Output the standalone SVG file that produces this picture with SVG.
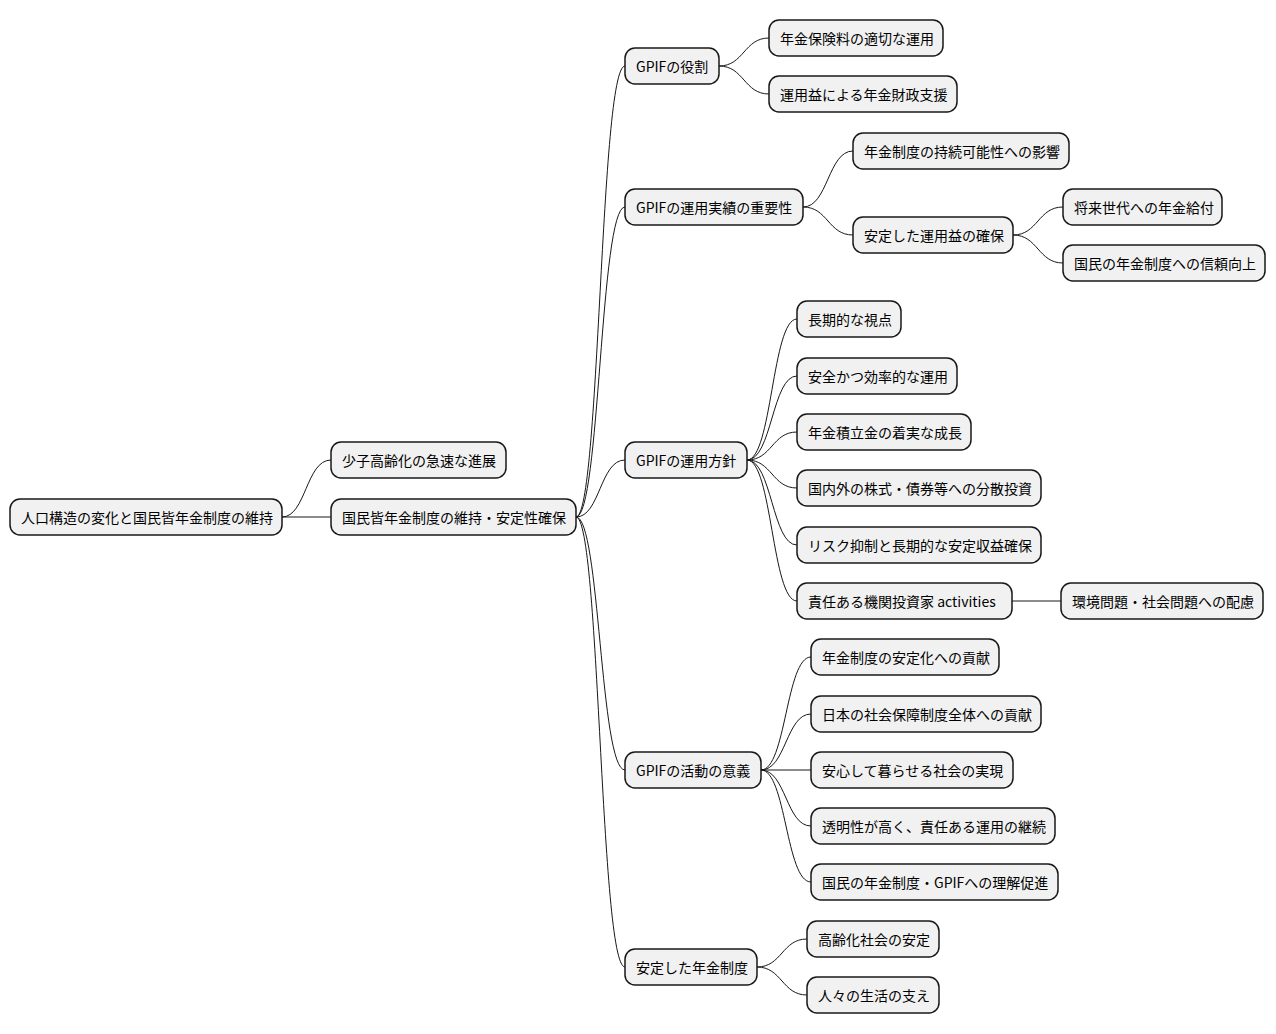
<svg xmlns="http://www.w3.org/2000/svg" width="1276" height="1034" viewBox="0 0 1276 1034">
<style>
.n rect{fill:#f1f1f1;stroke:#181818;stroke-width:1.5}
.n text{font-family:"Noto Sans CJK JP","DejaVu Sans",sans-serif;font-size:14px;fill:#000;dominant-baseline:central}
#c path{fill:none;stroke:#181818;stroke-width:1}
</style>
<rect width="1276" height="1034" fill="#fff"/>
<g id="c">
<path d="M282 517 C306 517 306 460 331 460"/>
<path d="M282 517 L331 517"/>
<path d="M576 517 C600 517 600 66 625 66"/>
<path d="M576 517 C600 517 600 207 625 207"/>
<path d="M576 517 C600 517 600 460 625 460"/>
<path d="M576 517 C600 517 600 770 625 770"/>
<path d="M576 517 C600 517 600 967 625 967"/>
<path d="M719 66 C744 66 744 38 769 38"/>
<path d="M719 66 C744 66 744 94 769 94"/>
<path d="M803 207 C828 207 828 151 853 151"/>
<path d="M803 207 C828 207 828 235 853 235"/>
<path d="M1013 235 C1038 235 1038 207 1063 207"/>
<path d="M1013 235 C1038 235 1038 263 1063 263"/>
<path d="M747 460 C772 460 772 319 797 319"/>
<path d="M747 460 C772 460 772 376 797 376"/>
<path d="M747 460 C772 460 772 432 797 432"/>
<path d="M747 460 C772 460 772 488 797 488"/>
<path d="M747 460 C772 460 772 545 797 545"/>
<path d="M747 460 C772 460 772 601 797 601"/>
<path d="M1012 601 L1061 601"/>
<path d="M761 770 C786 770 786 657 811 657"/>
<path d="M761 770 C786 770 786 714 811 714"/>
<path d="M761 770 L811 770"/>
<path d="M761 770 C786 770 786 826 811 826"/>
<path d="M761 770 C786 770 786 882 811 882"/>
<path d="M757 967 C782 967 782 939 807 939"/>
<path d="M757 967 C782 967 782 995 807 995"/>
</g>
<g id="n0" class="n"><rect x="10" y="499" width="272" height="36" rx="10"/><text x="21" y="517">人口構造の変化と国民皆年金制度の維持</text></g>
<g id="n1" class="n"><rect x="331" y="442" width="175" height="36" rx="10"/><text x="342" y="460">少子高齢化の急速な進展</text></g>
<g id="n2" class="n"><rect x="331" y="499" width="245" height="36" rx="10"/><text x="342" y="517">国民皆年金制度の維持・安定性確保</text></g>
<g id="n3" class="n"><rect x="625" y="48" width="94" height="36" rx="10"/><text x="636" y="66">GPIFの役割</text></g>
<g id="n4" class="n"><rect x="625" y="189" width="178" height="36" rx="10"/><text x="636" y="207">GPIFの運用実績の重要性</text></g>
<g id="n5" class="n"><rect x="625" y="442" width="122" height="36" rx="10"/><text x="636" y="460">GPIFの運用方針</text></g>
<g id="n6" class="n"><rect x="625" y="752" width="136" height="36" rx="10"/><text x="636" y="770">GPIFの活動の意義</text></g>
<g id="n7" class="n"><rect x="625" y="949" width="132" height="36" rx="10"/><text x="636" y="967">安定した年金制度</text></g>
<g id="n8" class="n"><rect x="769" y="20" width="174" height="36" rx="10"/><text x="780" y="38">年金保険料の適切な運用</text></g>
<g id="n9" class="n"><rect x="769" y="76" width="188" height="36" rx="10"/><text x="780" y="94">運用益による年金財政支援</text></g>
<g id="n10" class="n"><rect x="853" y="133" width="216" height="36" rx="10"/><text x="864" y="151">年金制度の持続可能性への影響</text></g>
<g id="n11" class="n"><rect x="853" y="217" width="160" height="36" rx="10"/><text x="864" y="235">安定した運用益の確保</text></g>
<g id="n12" class="n"><rect x="1063" y="189" width="159" height="36" rx="10"/><text x="1074" y="207">将来世代への年金給付</text></g>
<g id="n13" class="n"><rect x="1063" y="245" width="202" height="36" rx="10"/><text x="1074" y="263">国民の年金制度への信頼向上</text></g>
<g id="n14" class="n"><rect x="797" y="301" width="104" height="36" rx="10"/><text x="808" y="319">長期的な視点</text></g>
<g id="n15" class="n"><rect x="797" y="358" width="160" height="36" rx="10"/><text x="808" y="376">安全かつ効率的な運用</text></g>
<g id="n16" class="n"><rect x="797" y="414" width="174" height="36" rx="10"/><text x="808" y="432">年金積立金の着実な成長</text></g>
<g id="n17" class="n"><rect x="797" y="470" width="244" height="36" rx="10"/><text x="808" y="488">国内外の株式・債券等への分散投資</text></g>
<g id="n18" class="n"><rect x="797" y="527" width="244" height="36" rx="10"/><text x="808" y="545">リスク抑制と長期的な安定収益確保</text></g>
<g id="n19" class="n"><rect x="797" y="583" width="215" height="36" rx="10"/><text x="808" y="601">責任ある機関投資家 activities</text></g>
<g id="n20" class="n"><rect x="1061" y="583" width="202" height="36" rx="10"/><text x="1072" y="601">環境問題・社会問題への配慮</text></g>
<g id="n21" class="n"><rect x="811" y="639" width="188" height="36" rx="10"/><text x="822" y="657">年金制度の安定化への貢献</text></g>
<g id="n22" class="n"><rect x="811" y="696" width="230" height="36" rx="10"/><text x="822" y="714">日本の社会保障制度全体への貢献</text></g>
<g id="n23" class="n"><rect x="811" y="752" width="202" height="36" rx="10"/><text x="822" y="770">安心して暮らせる社会の実現</text></g>
<g id="n24" class="n"><rect x="811" y="808" width="244" height="36" rx="10"/><text x="822" y="826">透明性が高く、責任ある運用の継続</text></g>
<g id="n25" class="n"><rect x="811" y="864" width="247" height="36" rx="10"/><text x="822" y="882">国民の年金制度・GPIFへの理解促進</text></g>
<g id="n26" class="n"><rect x="807" y="921" width="132" height="36" rx="10"/><text x="818" y="939">高齢化社会の安定</text></g>
<g id="n27" class="n"><rect x="807" y="977" width="132" height="36" rx="10"/><text x="818" y="995">人々の生活の支え</text></g>
</svg>
